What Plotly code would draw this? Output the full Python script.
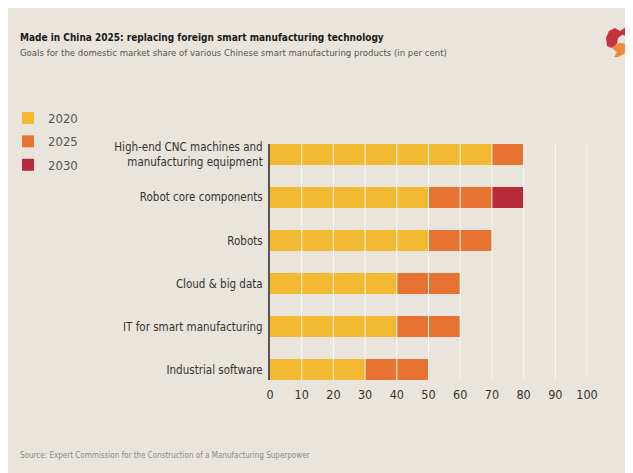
import plotly.graph_objects as go

categories = [
    "High-end CNC machines and<br>manufacturing equipment",
    "Robot core components",
    "Robots",
    "Cloud & big data",
    "IT for smart manufacturing",
    "Industrial software",
]
goal_2020 = [70, 50, 50, 40, 40, 30]
goal_2025 = [80, 70, 70, 60, 60, 50]
goal_2030 = [80, 80, 70, 60, 60, 50]
years = ["2020", "2025", "2030"]
colors = ["#F4B932", "#E67332", "#B72A3A"]
x_ticks = [0, 10, 20, 30, 40, 50, 60, 70, 80, 90, 100]

W, H = 633, 473
OFF = 8  # page body margin
L, R, T, B = 262, 54, 136, 101
PW, PH = W - L - R, H - T - B

def px(x):  # screen pixel -> paper
    return (x - OFF - L) / PW

def py(y):
    return (H - B - (y - OFF)) / PH

FONT = "DejaVu Sans Condensed, Roboto, sans-serif"
BG = "#E9E5DC"

inc_2025 = [b - a for a, b in zip(goal_2020, goal_2025)]
inc_2030 = [c - b for b, c in zip(goal_2025, goal_2030)]
segments = [goal_2020, inc_2025, inc_2030]

fig = go.Figure()
for name, vals, col in zip(years, segments, colors):
    fig.add_trace(go.Bar(
        y=categories, x=vals, name=name, orientation="h", legendgroup=name,
        marker=dict(color=col, line=dict(width=0)), width=0.48,
    ))

shapes = []
# gridlines drawn over the bars
for t in x_ticks[1:]:
    shapes.append(dict(type="line", xref="x", yref="paper", x0=t, x1=t, y0=0, y1=1,
                       line=dict(color="#FAF8F2", width=1), layer="above"))

# logo (rough)
def path(points):
    return "M " + " L ".join(f"{px(a):.4f},{py(b):.4f}" for a, b in points) + " Z"

logo_red = [(606, 38), (609, 31), (615, 28), (620, 31), (626, 27), (631, 26), (633, 33),
            (627, 36), (622, 35), (618, 38), (617, 44), (612, 48), (607, 46)]
logo_orange = [(612, 48), (617, 44), (620, 43), (626, 44), (627, 49), (624, 54), (618, 57),
               (614, 57), (617, 52)]
shapes.append(dict(type="path", xref="paper", yref="paper", path=path(logo_red),
                   fillcolor="#C7303F", line=dict(width=0)))
shapes.append(dict(type="path", xref="paper", yref="paper", path=path(logo_orange),
                   fillcolor="#EE8A3A", line=dict(width=0)))

annotations = [
    dict(text="<b>Made in China 2025: replacing foreign smart manufacturing technology</b>",
         x=px(18), y=py(37), xref="paper", yref="paper", xanchor="left", yanchor="middle",
         showarrow=False, font=dict(family=FONT, size=10, color="#1A1A1A")),
    dict(text="Goals for the domestic market share of various Chinese smart manufacturing products (in per cent)",
         x=px(18), y=py(53), xref="paper", yref="paper", xanchor="left", yanchor="middle",
         showarrow=False, font=dict(family=FONT, size=9.5, color="#555555")),
    dict(text="Source: Expert Commission for the Construction of a Manufacturing Superpower",
         x=px(18), y=py(455), xref="paper", yref="paper", xanchor="left", yanchor="middle",
         showarrow=False, font=dict(family=FONT, size=8, color="#8A8A8A")),
]

fig.update_layout(
    width=W, height=H,
    margin=dict(l=L, r=R, t=T, b=B),
    paper_bgcolor=BG, plot_bgcolor=BG,
    barmode="stack",
    showlegend=True,
    legend=dict(xref="container", yref="container", x=0, y=1 - 95 / H,
                xanchor="left", yanchor="top",
                font=dict(family=FONT, size=13, color="#555555"),
                bgcolor="rgba(0,0,0,0)", traceorder="grouped", tracegroupgap=3.5,
                itemwidth=30),
    xaxis=dict(range=[0, 100], tickvals=x_ticks, showgrid=False, zeroline=False,
               showline=False, ticks="", ticklabelstandoff=5,
               tickfont=dict(family=FONT, size=12.5, color="#333333"),
               fixedrange=True),
    yaxis=dict(categoryorder="array", categoryarray=categories, range=[5.24, -0.24],
               showgrid=False, zeroline=False, showline=True, linecolor="#555555", linewidth=2,
               ticks="", ticklabelstandoff=3,
               tickfont=dict(family=FONT, size=11.5, color="#333333"), fixedrange=True),
    shapes=shapes,
    annotations=annotations,
    font=dict(family=FONT),
)

fig.write_html("out.html")
